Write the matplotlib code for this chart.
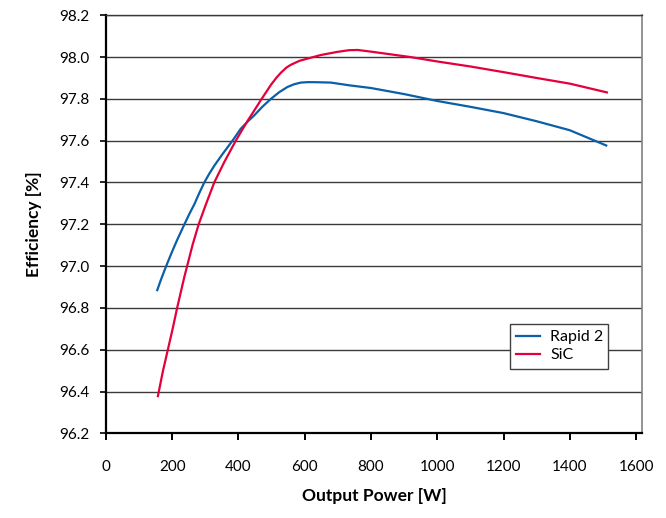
import matplotlib.pyplot as plt

plt.rcParams['font.family'] = ['Lato', 'DejaVu Sans']

# Rapid 2 efficiency curve
p_rapid = [155, 165, 176, 187, 200, 215, 237, 252, 267, 282, 297, 312, 327, 352, 382, 407,
           430, 447, 472, 498, 523, 548, 568, 588, 608, 628, 655, 679, 734, 800, 900,
           1000, 1100, 1200, 1300, 1400, 1510]
eff_rapid = [96.885, 96.93, 96.976, 97.02, 97.07, 97.125, 97.2, 97.25, 97.296, 97.35,
             97.4, 97.442, 97.48, 97.536, 97.6, 97.657, 97.695, 97.72, 97.762, 97.8, 97.832,
             97.857, 97.87, 97.878, 97.88, 97.88, 97.879, 97.878, 97.865, 97.852, 97.823,
             97.79, 97.762, 97.732, 97.693, 97.65, 97.577]

# SiC efficiency curve
p_sic = [157, 172, 187, 202, 215, 237, 250, 262, 280, 302, 327, 357, 392, 407, 428, 448,
         468, 498, 515, 528, 545, 558, 584, 609, 649, 699, 734, 760, 800, 860, 920, 1000,
         1100, 1200, 1300, 1400, 1512]
eff_sic = [96.378, 96.497, 96.6, 96.704, 96.8, 96.95, 97.03, 97.104, 97.2, 97.296, 97.4,
           97.497, 97.6, 97.64, 97.696, 97.745, 97.795, 97.867, 97.902, 97.925, 97.95,
           97.963, 97.982, 97.993, 98.01, 98.025, 98.033, 98.034, 98.026, 98.013, 98.0,
           97.979, 97.955, 97.928, 97.9, 97.873, 97.831]

xticks = [0, 200, 400, 600, 800, 1000, 1200, 1400, 1600]
yticks = [96.2, 96.4, 96.6, 96.8, 97.0, 97.2, 97.4, 97.6, 97.8, 98.0, 98.2]

fig = plt.figure(figsize=(6.66, 5.18), dpi=100)
ax = fig.add_axes([0.159, 0.1635, 0.805, 0.807])

ax.plot(p_rapid, eff_rapid, color='#0a5fa8', lw=1.6, label='Rapid 2')
ax.plot(p_sic, eff_sic, color='#e4003b', lw=1.6, label='SiC')

ax.set_xlim(0, 1618)
ax.set_ylim(96.2, 98.2)
ax.set_xticks(xticks)
ax.set_yticks(yticks)
ax.set_yticklabels(['%.1f' % v for v in yticks])
ax.grid(axis='y', color='#3a3a3a', lw=1.0)
ax.set_axisbelow(True)

for s in ['left', 'bottom']:
    ax.spines[s].set_color('black')
    ax.spines[s].set_linewidth(1.6)
ax.spines['right'].set_color('#808080')
ax.spines['right'].set_linewidth(1.2)
ax.spines['top'].set_color('#3a3a3a')
ax.spines['top'].set_linewidth(1.0)

ax.tick_params(axis='x', direction='out', length=5, width=1.4, pad=14, labelsize=11, colors='black')
ax.tick_params(axis='y', direction='out', length=4, width=1.2, pad=8, labelsize=11, colors='black')

ax.set_xlabel('Output Power [W]', fontsize=12.5, fontweight='bold', labelpad=10)
ax.set_ylabel('Efficiency [%]', fontsize=12.5, fontweight='bold', labelpad=12)

leg = ax.legend(loc='lower left', bbox_to_anchor=(0.739, 0.135, 0.213, 0.139), mode='expand',
                fancybox=False, edgecolor='#404040', framealpha=1, fontsize=11.5,
                handlelength=1.5, handletextpad=0.6, borderpad=0.4, labelspacing=0.25)
leg.get_frame().set_linewidth(1.0)

plt.savefig('out.png', dpi=100)
